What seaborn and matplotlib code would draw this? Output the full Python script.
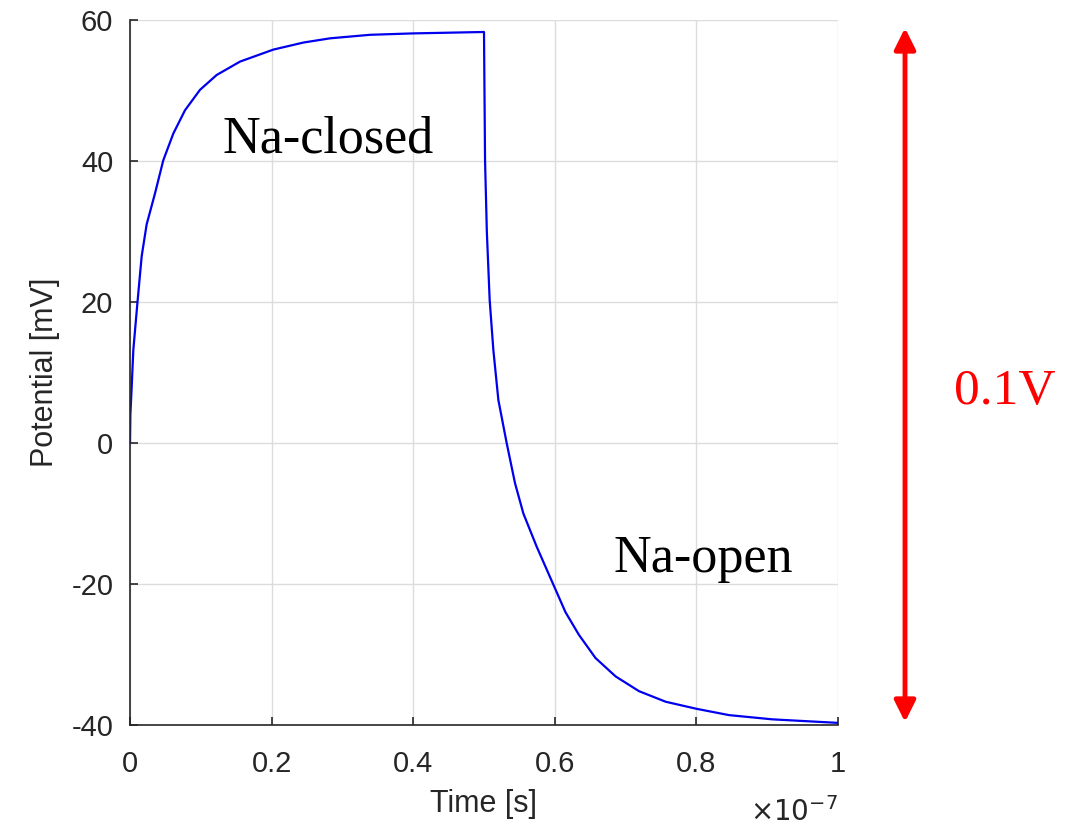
import numpy as np
import matplotlib
matplotlib.use("Agg")
import matplotlib.pyplot as plt
import matplotlib.ticker as mticker
import seaborn as sns
import pandas as pd

# time in units of 1e-7 s, potential in mV
t_rise = [0.0, 0.0005, 0.0024, 0.0047, 0.0104, 0.0165, 0.0235, 0.0353, 0.047,
          0.0612, 0.0777, 0.0989, 0.1224, 0.1554, 0.2024, 0.2448, 0.2825,
          0.339, 0.400, 0.450, 0.500]
v_rise = [0.0, 4.0, 8.0, 13.2, 19.8, 26.5, 31.0, 35.4, 40.1,
          43.9, 47.2, 50.1, 52.2, 54.1, 55.8, 56.8, 57.4,
          57.9, 58.1, 58.2, 58.3]
t_fall = [0.5005, 0.5015, 0.504, 0.508, 0.5132, 0.5203, 0.532, 0.5438, 0.5556,
          0.5744, 0.5932, 0.6151, 0.634, 0.6575, 0.6858, 0.7189, 0.7566,
          0.800, 0.8462, 0.9075, 1.0]
v_fall = [52.0, 40.0, 30.0, 20.3, 13.2, 6.1, 0.0, -5.7, -10.0,
          -14.7, -19.0, -24.0, -27.2, -30.5, -33.1, -35.2, -36.7,
          -37.7, -38.6, -39.2, -39.7]

xticks = [0, 0.2, 0.4, 0.6, 0.8, 1]
xtick_labels = ["0", "0.2", "0.4", "0.6", "0.8", "1"]
yticks = [-40, -20, 0, 20, 40, 60]

df = pd.DataFrame({"t": t_rise + t_fall, "v": v_rise + v_fall})

sns.set_style("whitegrid")
plt.rcParams["font.family"] = ["Liberation Sans", "DejaVu Sans"]
plt.rcParams["axes.unicode_minus"] = False

fig = plt.figure(figsize=(10.71, 8.27), dpi=100)
ax = fig.add_axes([130 / 1071, 1 - 725 / 827, 708 / 1071, 705 / 827])

sns.lineplot(data=df, x="t", y="v", estimator=None, sort=False,
             color="#0000ee", lw=1.6, ax=ax)

ax.set_xlim(0, 1)
ax.set_ylim(-40, 60)
ax.set_xticks(xticks)
ax.xaxis.set_major_formatter(mticker.FixedFormatter(xtick_labels))
ax.set_yticks(yticks)
ax.grid(True, color="#dcdcdc", lw=1)
for s in ["top", "right"]:
    ax.spines[s].set_visible(False)
for s in ["left", "bottom"]:
    ax.spines[s].set_color("#262626")
    ax.spines[s].set_linewidth(1.2)
ax.tick_params(direction="in", length=6, width=1.2, color="#262626",
               labelsize=21, labelcolor="#262626", left=True, bottom=True)
ax.tick_params(axis="y", pad=12)
ax.tick_params(axis="x", pad=18)
ax.set_xlabel("Time [s]", fontsize=22, color="#262626", labelpad=8)
ax.set_ylabel("Potential [mV]", fontsize=22, color="#262626", labelpad=8)
ax.text(1.0, -0.124, r"$\times10^{-7}$", transform=ax.transAxes,
        ha="right", va="center", fontsize=20, color="#262626")

ax.text(0.13, 43, "Na-closed", fontsize=37.5, family="Liberation Serif",
        ha="left", va="center", color="black")
ax.text(0.683, -16.5, "Na-open", fontsize=37.5, family="Liberation Serif",
        ha="left", va="center", color="black")

fig.text(1005 / 1071, 1 - 392 / 827, "0.1V", fontsize=37,
         family="Liberation Serif", color="red", ha="center", va="center")
ax.annotate("", xy=(905 / 1071, 1 - 722 / 827), xytext=(905 / 1071, 1 - 28 / 827),
            xycoords="figure fraction", textcoords="figure fraction",
            arrowprops=dict(arrowstyle="<|-|>", color="red", lw=3.5,
                            mutation_scale=32, shrinkA=0, shrinkB=0))

fig.savefig("out.png", dpi=100)
